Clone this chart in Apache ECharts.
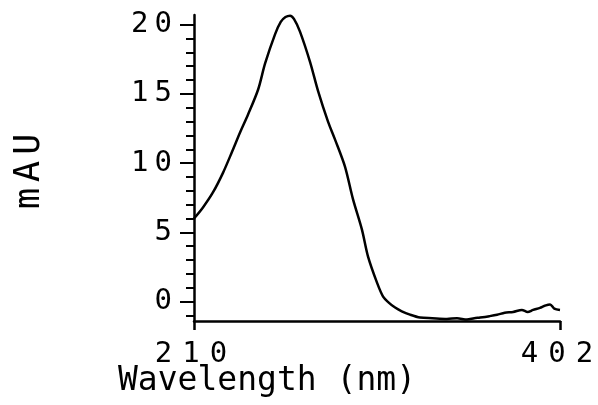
<!DOCTYPE html>
<html>
<head>
<meta charset="utf-8">
<script src="https://cdn.jsdelivr.net/npm/echarts@6/dist/echarts.min.js"></script>
<style>html,body{margin:0;padding:0;background:#fff}#c{width:598px;height:405px}</style>
</head>
<body>
<div id="c"></div>
<script>
const wavelengths = [210, 214.7, 220, 225.2, 229.9, 234.1, 238.3, 243.6, 247.3, 252.5, 255.5, 258, 260.4, 262.5, 265.6, 270.9, 275.1, 280.3, 284, 289.2, 293.4, 298.1, 301.3, 306, 309.2, 312, 315.5, 319, 323.3, 328.6, 335, 342.7, 348, 353.2, 357, 360.1, 365, 369, 373, 377.4, 382, 385, 387.9, 391.5, 394, 396.8, 399, 402];
const mAU = [6.0, 6.8, 7.9, 9.3, 10.8, 12.2, 13.5, 15.3, 17.2, 19.3, 20.2, 20.55, 20.65, 20.4, 19.5, 17.3, 15.2, 13.0, 11.7, 9.75, 7.4, 5.2, 3.25, 1.37, 0.36, -0.05, -0.43, -0.7, -0.94, -1.15, -1.2, -1.25, -1.2, -1.3, -1.2, -1.15, -1.05, -0.95, -0.8, -0.75, -0.6, -0.75, -0.6, -0.45, -0.3, -0.2, -0.5, -0.6];
const yTickLabels = [0, 5, 10, 15, 20];
const yMinorTicks = [-1, 1, 2, 3, 4, 6, 7, 8, 9, 11, 12, 13, 14, 16, 17, 18, 19];
const xTickLabels = [210, 402];
const xTitle = 'Wavelength (nm)';
const yTitle = 'mAU';

const FONT = 'DejaVu Sans Mono';
function spaced(v) {
  return String(v).split('').map(ch => '{c|' + ch + '}').join('');
}
const richChar = { c: { fontFamily: FONT, fontSize: 29, color: '#000', padding: [0, 3, 0, 3] } };

const chart = echarts.init(document.getElementById('c'), null, { renderer: 'canvas' });
chart.setOption({
  animation: false,
  backgroundColor: '#fff',
  grid: { left: 194, right: 38, top: 15, bottom: 84 },
  xAxis: {
    type: 'value', min: 210, max: 402,
    axisLine: { show: true, onZero: false, lineStyle: { color: '#000', width: 2.5 } },
    axisTick: { show: true, customValues: xTickLabels, length: 9, lineStyle: { color: '#000', width: 2.5 } },
    axisLabel: { customValues: xTickLabels, margin: 19, formatter: v => spaced(v), rich: { c: { fontFamily: FONT, fontSize: 29, color: '#000', padding: [0, 8, 0, 2] } } },
    splitLine: { show: false }
  },
  yAxis: [{
    type: 'value', min: -1.4, max: 20.7,
    axisLine: { show: true, lineStyle: { color: '#000', width: 2.5 } },
    axisTick: { show: true, customValues: yTickLabels, length: 14, lineStyle: { color: '#000', width: 2 } },
    axisLabel: { customValues: yTickLabels, margin: 19, formatter: v => spaced(v), rich: richChar },
    splitLine: { show: false }
  }, {
    type: 'value', min: -1.4, max: 20.7, position: 'left',
    axisLine: { show: false },
    axisTick: { show: true, customValues: yMinorTicks, length: 8, lineStyle: { color: '#000', width: 2 } },
    axisLabel: { show: false },
    splitLine: { show: false }
  }],
  series: [{
    type: 'line',
    data: wavelengths.map((w, i) => [w, mAU[i]]),
    showSymbol: false,
    smooth: 0.3,
    lineStyle: { color: '#000', width: 2.5 },
    yAxisIndex: 0
  }],
  graphic: [
    { type: 'text', left: 118, top: 365, style: { text: xTitle, font: '33px "DejaVu Sans Mono"', fill: '#000' } },
    { type: 'text', x: 12, y: 212, rotation: Math.PI / 2,
      style: { text: yTitle.split('').map(ch => '{c|' + ch + '}').join(''), fill: '#000',
        rich: { c: { fontFamily: FONT, fontSize: 35, color: '#000', padding: [0, 3, 0, 3] } } } }
  ]
});
</script>
</body>
</html>
